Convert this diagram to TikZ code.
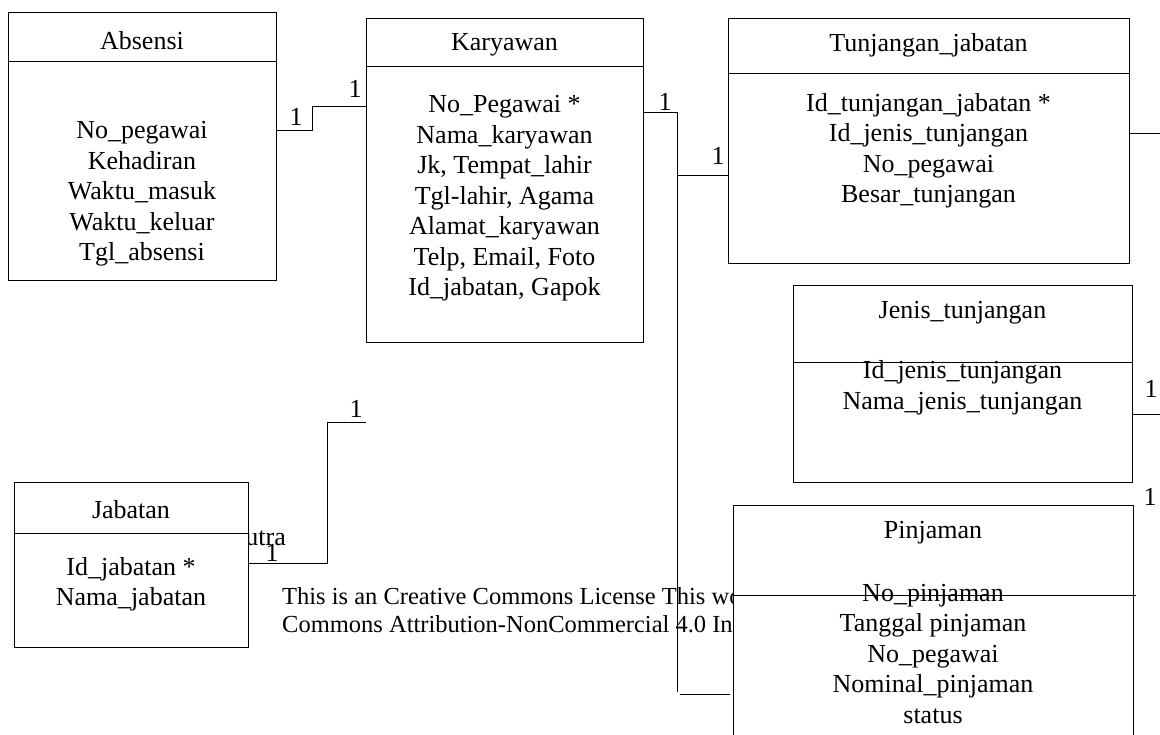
\documentclass[tikz,border=0pt]{standalone}
\usepackage{fontspec}
\setmainfont{Liberation Serif}
\begin{document}
\begin{tikzpicture}[x=1pt,y=-1pt,
  ent/.style={draw, line width=0.9pt, inner sep=0pt, outer sep=0pt, fill=white},
  txt/.style={font=\fontsize{26}{30.5}\selectfont, align=center, inner sep=0pt},
  lbl/.style={font=\fontsize{26}{30}\selectfont, inner sep=0pt},
  lic/.style={font=\fontsize{24.5}{28}\selectfont, align=left, inner sep=0pt, anchor=west},
  con/.style={line width=0.9pt}]
\clip (0,0) rectangle (1160,735);
\fill[white] (0,0) rectangle (1160,735);

% license text (behind everything, clipped at the Pinjaman box)
\begin{scope}
\clip (0,570) rectangle (733,650);
\node[lic] (lic1) at (282,596) {This is an Creative Commons License This work is licensed};
\node[lic] (lic2) at (282,624) {Commons Attribution-NonCommercial 4.0 International};
\end{scope}
\begin{scope}
\clip (248,500) rectangle (320,560);
\node[lbl, anchor=east] (utra) at (286,537) {Putra};
\end{scope}

% entities
\node[ent, minimum width=268pt, minimum height=268pt] (absensi) at (142,146) {};
\draw[con] (absensi.west |- 0,61) -- (absensi.east |- 0,61);
\node[txt] (absT) at (142,41) {Absensi};
\node[txt] (absB) at (142,194) {No\_pegawai\\Kehadiran\\Waktu\_masuk\\Waktu\_keluar\\Tgl\_absensi};

\node[ent, minimum width=277pt, minimum height=324pt] (kar) at (504.5,180) {};
\draw[con] (kar.west |- 0,66) -- (kar.east |- 0,66);
\node[txt] (karT) at (504.5,45) {Karyawan};
\node[txt] (karB) at (504.5,198.5) {No\_Pegawai *\\Nama\_karyawan\\Jk, Tempat\_lahir\\Tgl-lahir, Agama\\Alamat\_karyawan\\Telp, Email, Foto\\Id\_jabatan, Gapok};

\node[ent, minimum width=401pt, minimum height=245pt] (tun) at (928.5,140.5) {};
\draw[con] (tun.west |- 0,73) -- (tun.east |- 0,73);
\node[txt] (tunT) at (928.5,45) {Tunjangan\_jabatan};
\node[txt] (tunB) at (928.5,151) {Id\_tunjangan\_jabatan *\\Id\_jenis\_tunjangan\\No\_pegawai\\Besar\_tunjangan};

\node[ent, minimum width=339pt, minimum height=197pt] (jen) at (962.5,383.5) {};
\draw[con] (jen.west |- 0,362) -- (jen.east |- 0,362);
\node[txt] (jenT) at (962.5,313) {Jenis\_tunjangan};
\node[txt] (jenB) at (962.5,388) {Id\_jenis\_tunjangan\\Nama\_jenis\_tunjangan};

\node[ent, minimum width=234pt, minimum height=165pt] (jab) at (131,564.5) {};
\draw[con] (jab.west |- 0,533) -- (jab.east |- 0,533);
\node[txt] (jabT) at (131,510) {Jabatan};
\node[txt] (jabB) at (131,584) {Id\_jabatan *\\Nama\_jabatan};

\node[ent, minimum width=400pt, minimum height=280pt] (pin) at (933,645) {};
\node[txt] (pinT) at (933,533) {Pinjaman};
\node[txt] (pinB) at (933,654) {No\_pinjaman\\Tanggal pinjaman\\No\_pegawai\\Nominal\_pinjaman\\status};
\draw[con] (pin.west |- 0,595) -- (1136,595);

% connectors
\coordinate (a1) at (312,130);
\coordinate (a2) at (312,106);
\draw[con] (absensi.east |- a1) -- (a1) -- (a2) -- (kar.west |- a2);

\coordinate (k1) at (677,112);
\coordinate (k2) at (677,175);
\coordinate (k3) at (677,692);
\coordinate (k4) at (680,694);
\draw[con] (kar.east |- k1) -- (k1) -- (k3);
\draw[con] (k2) -- (tun.west |- k2);
\draw[con] (k4) -- (730,694);

\coordinate (j1) at (327,563);
\coordinate (j2) at (327,422);
\coordinate (j3) at (366,422);
\draw[con] (jab.east |- j1) -- (j1) -- (j2) -- (j3);

\coordinate (r1) at (1160,133);
\draw[con] (tun.east |- r1) -- (r1);
\coordinate (r2) at (1160,414);
\draw[con] (jen.east |- r2) -- (r2);

% cardinality labels
\node[lbl] (l1) at (296,117) {1};
\node[lbl] (l2) at (355,89) {1};
\node[lbl] (l3) at (665,102) {1};
\node[lbl] (l4) at (718,156) {1};
\node[lbl] (l5) at (1151,389) {1};
\node[lbl] (l6) at (1150,497) {1};
\node[lbl] (l7) at (356,409) {1};
\node[lbl] (l8) at (272,553) {1};
\end{tikzpicture}
\end{document}
